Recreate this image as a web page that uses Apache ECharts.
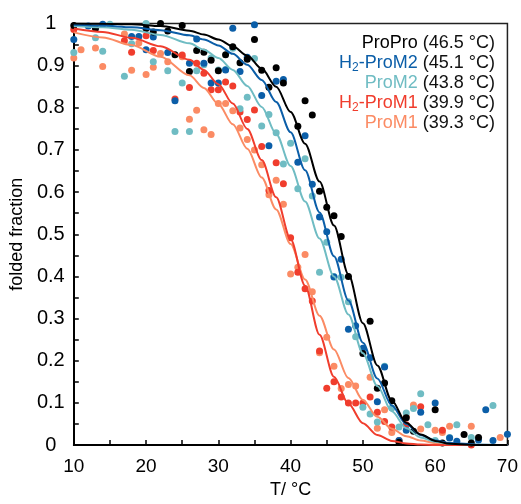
<!DOCTYPE html>
<html><head><meta charset="utf-8">
<script src="https://cdn.jsdelivr.net/npm/echarts@6/dist/echarts.min.js"></script>
<style>html,body{margin:0;padding:0;background:#fff}#c{width:521px;height:504px}</style>
</head><body><div id="c"></div>
<script>
// ---- data ----
const seriesNames = ['ProPro', 'H2-ProM2', 'ProM2', 'H2-ProM1', 'ProM1'];
const tmLabels = ['46.5', '45.1', '43.8', '39.9', '39.3'];
const xTickLabels = ['10', '20', '30', '40', '50', '60', '70'];
const yTickLabels = ['0', '0.1', '0.2', '0.3', '0.4', '0.5', '0.6', '0.7', '0.8', '0.9', '1'];
const xAxisTitle = 'T/ °C';
const yAxisTitle = 'folded fraction';

// fitted curves at these temperatures
const curveT = [10,14,18,22,26,28,30,32,34,36,38,40,42,44,46,48,50,52,54,56,58,60,62,66,70];
const fitProPro  = [1.000,0.9995,0.998,0.994,0.983,0.974,0.962,0.946,0.924,0.893,0.850,0.790,0.715,0.625,0.521,0.405,0.289,0.189,0.105,0.053,0.025,0.010,0.003,0.000,0.000];
const fitH2ProM2 = [0.997,0.995,0.991,0.984,0.972,0.962,0.948,0.928,0.902,0.866,0.814,0.742,0.652,0.552,0.448,0.343,0.243,0.158,0.094,0.050,0.024,0.011,0.005,0.001,0.000];
const fitProM2   = [0.994,0.991,0.985,0.973,0.953,0.938,0.918,0.890,0.852,0.802,0.738,0.662,0.578,0.490,0.400,0.310,0.218,0.140,0.080,0.040,0.018,0.008,0.003,0.001,0.000];
const fitH2ProM1 = [0.988,0.980,0.966,0.946,0.914,0.890,0.856,0.810,0.750,0.676,0.588,0.488,0.378,0.262,0.162,0.098,0.052,0.024,0.010,0.004,0.0015,0.0005,0.000,0.000,0.000];
const fitProM1   = [0.979,0.967,0.949,0.921,0.877,0.847,0.809,0.761,0.703,0.635,0.559,0.477,0.393,0.307,0.227,0.159,0.107,0.067,0.039,0.021,0.011,0.005,0.002,0.000,0.000];

// measured points [T, fraction]
const ptsProPro = [[10,0.995],[13,0.988],[20,0.988],[21,0.98],[22,1.0],[23,0.982],[24,0.926],[25,0.995],[26,0.886],[27,0.936],[28,0.932],[29,0.913],[30,0.888],[31,0.926],[32,0.945],[33,0.907],[34,0.915],[35,0.962],[36,0.889],[37,0.849],[38,0.895],[39,0.859],[41,0.756],[42,0.817],[43,0.783],[44,0.602],[45,0.564],[46,0.544],[47,0.495],[48,0.40],[50,0.217],[51,0.294],[52,0.135],[53,0.147],[54,0.105],[55,0.007],[56,0.065],[57,0.033],[60,0.084],[61,0.005],[64,0.025],[65,0.005],[66,0.018]];
const ptsH2ProM2 = [[10,0.962],[12,0.994],[14,0.998],[18,0.969],[19,0.969],[20,0.938],[21,0.968],[23,0.931],[24,0.817],[26,0.906],[27,0.963],[28,0.906],[29,0.859],[30,0.859],[31,0.89],[32,0.989],[33,0.886],[34,0.92],[35,0.997],[36,0.829],[37,0.71],[38,0.863],[39,0.867],[41,0.671],[42,0.734],[43,0.619],[44,0.541],[45,0.506],[46,0.399],[47,0.441],[48,0.275],[49,0.283],[50,0.23],[51,0.207],[52,0.103],[53,0.185],[55,0.011],[56,0.035],[58,0.078],[60,0.10],[62,0.017],[63,0.009],[66,0.012],[67,0.084],[68,0.011],[70,0.026]];
const ptsProM2 = [[10,0.931],[13,0.966],[14,0.934],[15,0.998],[17,0.875],[18,0.952],[20,1.0],[21,0.909],[23,0.888],[24,0.744],[25,0.859],[26,0.744],[27,0.888],[28,0.902],[29,0.918],[30,0.89],[31,0.891],[32,0.941],[33,0.798],[34,0.825],[35,0.917],[36,0.757],[37,0.784],[38,0.741],[39,0.667],[40,0.716],[41,0.608],[42,0.679],[43,0.591],[44,0.41],[45,0.481],[46,0.40],[47,0.398],[48,0.34],[49,0.257],[50,0.09],[51,0.074],[52,0.055],[53,0.187],[54,0.088],[55,0.043],[56,0.076],[57,0.087],[58,0.122],[59,0.048],[60,0.011],[62,0.018],[63,0.048],[65,0.018],[68,0.094]];
const ptsH2ProM1 = [[10,0.986],[17,0.959],[18,0.932],[20,0.971],[21,0.936],[24,0.821],[25,0.925],[26,0.848],[27,0.906],[28,0.882],[29,0.843],[30,0.843],[31,0.861],[32,0.852],[33,0.79],[34,0.772],[35,0.795],[36,0.708],[37,0.604],[38,0.67],[39,0.62],[40,0.492],[41,0.41],[42,0.371],[43,0.342],[44,0.223],[45,0.135],[46,0.15],[47,0.114],[48,0.10],[49,0.10],[50,0.10],[51,0.114],[52,0.078],[53,0.056],[54,0.043],[55,0.011],[56,0.048],[58,0.091],[61,0.035],[65,0.0]];
const ptsProM1 = [[10,0.918],[11,0.938],[13,0.942],[14,0.898],[17,0.975],[18,0.889],[19,0.954],[20,0.879],[21,0.896],[22,0.929],[23,0.909],[25,0.921],[26,0.773],[27,0.794],[28,0.748],[29,0.737],[30,0.81],[31,0.81],[32,0.793],[33,0.752],[34,0.725],[35,0.70],[36,0.665],[37,0.594],[38,0.628],[39,0.571],[40,0.406],[41,0.422],[42,0.452],[43,0.364],[44,0.219],[45,0.256],[46,0.187],[47,0.134],[48,0.144],[49,0.14],[51,0.161],[52,0.04],[53,0.084],[54,0.03],[56,0.067],[57,0.095],[58,0.038],[60,0.035],[61,0.03],[62,0.045],[65,0.045],[69,0.018]];

// ---- styles ----
const colors = ['#000000', '#0b5ea8', '#6fbcc3', '#f03d2d', '#fb8b64'];
const FONT = '"Liberation Sans", Arial, sans-serif';

const fits = [fitProPro, fitH2ProM2, fitProM2, fitH2ProM1, fitProM1];
const pts = [ptsProPro, ptsH2ProM2, ptsProM2, ptsH2ProM1, ptsProM1];

const chart = echarts.init(document.getElementById('c'), null, {renderer: 'canvas'});

const series = [];
for (let i = seriesNames.length - 1; i >= 0; i--) {
  series.push({
    type: 'scatter', name: seriesNames[i] + ' pts', data: pts[i],
    symbol: 'circle', symbolSize: 7,
    itemStyle: {color: colors[i], opacity: 1},
    z: 2, silent: true
  });
}
for (let i = seriesNames.length - 1; i >= 0; i--) {
  series.push({
    type: 'line', name: seriesNames[i], data: curveT.map((t, j) => [t, fits[i][j]]),
    showSymbol: false, smooth: 0.3, smoothMonotone: 'x',
    lineStyle: {color: colors[i], width: 2},
    z: 3, silent: true
  });
}

const legendY0 = 42.7, legendDY = 20.1;
const graphics = seriesNames.map((nm, i) => {
  let nameRich;
  if (nm.startsWith('H2-')) {
    nameRich = '{n|H}{s|2}{n|' + nm.slice(2) + '}';
  } else {
    nameRich = '{n|' + nm + '}';
  }
  return {
    type: 'text', x: 495, y: legendY0 + legendDY * i, z: 10,
    style: {
      text: nameRich + '{k| (' + tmLabels[i] + ' °C)}',
      align: 'right', verticalAlign: 'middle',
      fontSize: 18, fontFamily: FONT, fill: '#111',
      rich: {
        n: {fontSize: 18, lineHeight: 22, fontFamily: FONT, fill: colors[i]},
        s: {fontSize: 12, lineHeight: 12, fontFamily: FONT, fill: colors[i], verticalAlign: 'bottom'},
        k: {fontSize: 18, lineHeight: 22, fontFamily: FONT, fill: '#111'}
      }
    }
  };
});

const tickColor = '#000';
chart.setOption({
  animation: false,
  backgroundColor: '#fff',
  grid: {left: 73, right: 9.5, top: 23.5, bottom: 46, show: true, borderColor: '#222', borderWidth: 1.5, containLabel: false},
  xAxis: {
    type: 'value', min: 10, max: 70, interval: 10,
    name: xAxisTitle, nameLocation: 'middle', nameGap: 30,
    nameTextStyle: {fontSize: 18, color: '#000', fontFamily: FONT},
    axisLine: {show: true, onZero: false, lineStyle: {color: tickColor, width: 2}},
    axisTick: {show: true, inside: true, length: 5, lineStyle: {color: tickColor, width: 1.5}},
    minorTick: {show: true, splitNumber: 2, length: 5, lineStyle: {color: tickColor, width: 1.5}},
    splitLine: {show: false},
    axisLabel: {fontSize: 19, color: '#000', fontFamily: FONT, margin: 12,
      formatter: v => { const k = Math.round((v - 10) / 10); return xTickLabels[k] !== undefined ? xTickLabels[k] : ''; }}
  },
  yAxis: {
    type: 'value', min: 0, max: 1, interval: 0.1,
    name: yAxisTitle, nameLocation: 'middle', nameGap: 44,
    nameTextStyle: {fontSize: 18, color: '#000', fontFamily: FONT},
    axisLine: {show: true, onZero: false, lineStyle: {color: tickColor, width: 2}},
    axisTick: {show: true, inside: true, length: 5, lineStyle: {color: tickColor, width: 1.5}},
    minorTick: {show: true, splitNumber: 2, length: 5, lineStyle: {color: tickColor, width: 1.5}},
    splitLine: {show: false},
    axisLabel: {fontSize: 20, color: '#000', fontFamily: FONT, margin: 23, align: 'center',
      formatter: v => { const k = Math.round(v * 10); return yTickLabels[k] !== undefined ? yTickLabels[k] : ''; }}
  },
  series: series,
  graphic: graphics
});
</script>
</body></html>
